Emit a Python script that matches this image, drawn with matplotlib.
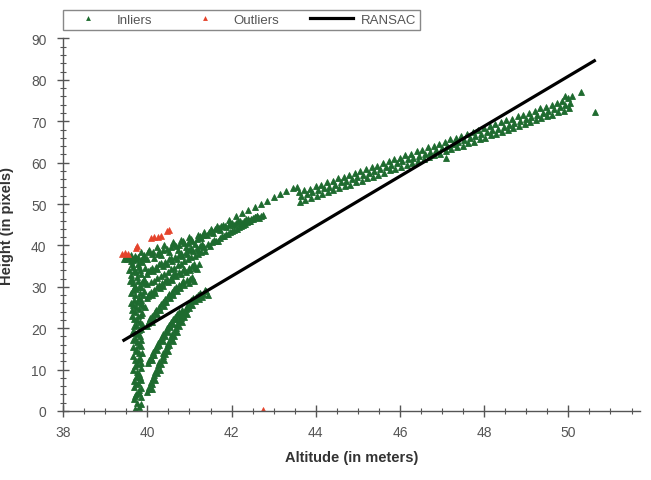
import matplotlib
matplotlib.use("Agg")
from matplotlib import pyplot as plt
from matplotlib.lines import Line2D
from matplotlib.ticker import MultipleLocator

plt.rcParams['font.family'] = ['Liberation Sans', 'DejaVu Sans']

GREEN = '#1e6b2f'
RED = '#e5432b'
GREY = '#555555'

# vertical column of inliers near 39.7 m
column = [
    (39.70, 0.4), (39.80, 0.9), (39.76, 1.9), (39.68, 2.8), (39.84, 3.3), (39.74, 4.2),
    (39.81, 5.1), (39.69, 5.9), (39.78, 6.8), (39.86, 7.4), (39.72, 8.1), (39.80, 9.0),
    (39.67, 9.8), (39.84, 10.5), (39.75, 11.3), (39.70, 12.4), (39.82, 12.9), (39.87, 14.0),
    (39.73, 14.6), (39.66, 15.5), (39.79, 16.0), (39.85, 17.1), (39.71, 17.6), (39.77, 18.7),
    (39.65, 19.4), (39.86, 19.9), (39.74, 20.8), (39.82, 21.6), (39.68, 22.3), (39.78, 23.0),
    (39.88, 23.6), (39.63, 24.4), (39.73, 25.1), (39.84, 25.8), (39.68, 26.7), (39.79, 27.3),
    (39.90, 27.9), (39.62, 28.6), (39.74, 29.4), (39.85, 30.0), (39.67, 30.9), (39.78, 31.5),
    (39.91, 32.0), (39.62, 32.8), (39.72, 33.5), (39.83, 34.1), (39.66, 34.9), (39.77, 35.5),
    (39.88, 35.9), (39.70, 36.6), (39.60, 36.2), (39.95, 30.8), (39.94, 25.0), (39.58, 31.5),
    (39.60, 26.0), (39.56, 34.0),
    (39.74, 0.0), (39.84, 1.6), (39.70, 3.6), (39.79, 4.4), (39.86, 5.6), (39.73, 6.4),
    (39.68, 7.3), (39.83, 8.3), (39.76, 9.5), (39.70, 10.9), (39.86, 11.7), (39.78, 12.2),
    (39.67, 13.4), (39.80, 13.9), (39.72, 15.0), (39.86, 15.6), (39.76, 16.7), (39.66, 17.2),
    (39.82, 18.0), (39.70, 18.9), (39.80, 19.6), (39.68, 20.6), (39.88, 21.0), (39.75, 21.9),
    (39.64, 22.9), (39.84, 23.3), (39.70, 23.8), (39.80, 24.6), (39.90, 25.3), (39.66, 25.6),
    (39.76, 26.3), (39.86, 26.9), (39.70, 27.9), (39.82, 28.4), (39.66, 29.3), (39.92, 29.0),
    (39.80, 29.9), (39.71, 30.3), (39.88, 31.2), (39.64, 31.9), (39.76, 32.4), (39.86, 33.0),
    (39.68, 33.9), (39.94, 34.5), (39.79, 34.7), (39.63, 35.5), (39.84, 36.4), (39.73, 37.0),
    (39.92, 37.0),
]

# diagonal branches fanning out of the column
branch1 = [
    (40.00, 4.6), (40.05, 5.8), (40.10, 5.4), (40.08, 7.0), (40.14, 7.9), (40.19, 7.6),
    (40.18, 9.4), (40.24, 10.2), (40.29, 10.0), (40.28, 11.8), (40.34, 12.6), (40.39, 12.4),
    (40.38, 14.1), (40.44, 15.0), (40.49, 14.6), (40.48, 16.4), (40.55, 17.2), (40.60, 16.9),
    (40.59, 18.7), (40.66, 19.5), (40.71, 19.1), (40.70, 21.0), (40.77, 21.8), (40.82, 21.4),
    (40.82, 23.3), (40.89, 24.0), (40.94, 23.5), (40.95, 25.4), (41.02, 26.0), (41.07, 25.5),
    (41.09, 27.3), (41.16, 27.6), (41.22, 27.1), (41.26, 28.6), (41.33, 28.2), (41.40, 28.9),
    (41.45, 28.0),
    (40.03, 5.2), (40.12, 6.6), (40.16, 8.6), (40.22, 9.1), (40.26, 11.0), (40.32, 11.4),
    (40.36, 13.3), (40.42, 13.8), (40.46, 15.6), (40.52, 16.0), (40.57, 17.9), (40.63, 18.2),
    (40.68, 20.1), (40.74, 20.5), (40.80, 22.5), (40.86, 22.8), (40.92, 24.7), (40.98, 24.8),
    (41.04, 26.8), (41.12, 26.6), (41.20, 28.1), (41.30, 27.6), (41.37, 29.2),
]
branch2 = [
    (40.02, 11.6), (40.08, 12.8), (40.12, 12.3), (40.13, 14.2), (40.19, 15.0), (40.24, 14.7),
    (40.25, 16.4), (40.31, 17.2), (40.36, 16.9), (40.38, 18.6), (40.44, 19.4), (40.49, 19.0),
    (40.51, 20.8), (40.57, 21.5), (40.62, 21.1), (40.65, 22.8), (40.71, 23.4), (40.77, 23.0),
    (40.82, 24.4), (40.88, 24.0),
    (40.05, 12.2), (40.10, 13.5), (40.16, 13.6), (40.22, 15.8), (40.28, 15.9), (40.34, 17.9),
    (40.41, 18.0), (40.47, 20.1), (40.54, 20.2), (40.60, 22.2), (40.68, 22.1), (40.74, 24.0),
    (40.80, 23.6),
]
branch3 = [
    (39.98, 20.6), (40.04, 21.8), (40.10, 21.4), (40.12, 23.0), (40.18, 23.8), (40.24, 23.4),
    (40.27, 25.0), (40.33, 25.8), (40.39, 25.4), (40.42, 27.0), (40.48, 27.7), (40.54, 27.3),
    (40.58, 28.8), (40.64, 29.5), (40.70, 29.1), (40.75, 30.4), (40.82, 31.0), (40.88, 30.5),
    (40.94, 31.6), (41.02, 31.9), (41.10, 31.4),
    (40.01, 21.2), (40.07, 22.5), (40.15, 22.4), (40.21, 24.5), (40.30, 24.4), (40.36, 26.4),
    (40.45, 26.3), (40.51, 28.3), (40.60, 28.1), (40.67, 30.0), (40.78, 29.8), (40.85, 31.5),
    (40.98, 30.8), (41.06, 32.3),
]
branch4 = [
    (39.98, 27.2), (40.05, 28.2), (40.12, 27.9), (40.16, 29.2), (40.23, 29.9), (40.30, 29.6),
    (40.35, 30.8), (40.42, 31.4), (40.49, 31.1), (40.55, 32.2), (40.62, 32.8), (40.69, 32.5),
    (40.76, 33.5), (40.84, 34.0), (40.91, 33.6), (40.98, 34.6), (41.06, 35.0), (41.14, 34.6),
    (41.22, 35.4),
    (40.02, 27.8), (40.09, 28.8), (40.19, 28.6), (40.27, 30.4), (40.38, 30.2), (40.46, 31.9),
    (40.58, 31.7), (40.66, 33.3), (40.80, 33.0), (40.88, 34.4), (41.02, 34.0), (41.10, 35.5),
    (41.18, 34.2),
]
branch45 = [
    (40.00, 30.6), (40.08, 31.2), (40.16, 31.5), (40.24, 32.2), (40.32, 32.5), (40.40, 33.2),
    (40.48, 33.6), (40.56, 34.2), (40.64, 34.6), (40.72, 35.2), (40.80, 35.6), (40.88, 36.2),
    (40.96, 36.6), (41.04, 37.1), (41.12, 37.5), (41.20, 38.0), (41.28, 38.4), (41.36, 38.7),
]
branch5 = [
    (39.98, 33.2), (40.06, 34.1), (40.14, 33.8), (40.20, 34.9), (40.28, 35.4), (40.36, 35.1),
    (40.43, 36.1), (40.51, 36.6), (40.59, 36.3), (40.66, 37.3), (40.75, 37.8), (40.83, 37.5),
    (40.91, 38.4), (41.00, 38.9), (41.08, 38.6), (41.17, 39.4), (41.26, 39.9), (41.35, 39.6),
    (41.44, 40.3), (41.53, 40.8), (41.62, 41.1), (41.72, 41.8), (41.82, 42.2), (41.92, 42.8),
    (42.02, 43.4), (42.12, 43.9), (42.22, 44.6), (42.32, 45.2), (42.42, 45.9), (42.52, 46.6),
    (42.60, 47.2),
    (40.02, 33.8), (40.10, 34.5), (40.24, 34.3), (40.32, 35.8), (40.47, 35.6), (40.55, 37.0),
    (40.70, 36.8), (40.79, 38.1), (40.95, 38.0), (41.04, 39.4), (41.21, 38.9), (41.30, 40.4),
    (41.48, 39.8), (41.58, 41.4), (41.67, 41.0), (41.77, 42.3), (41.87, 42.7), (41.97, 43.3),
    (42.07, 43.7), (42.17, 44.4), (42.27, 45.0), (42.37, 45.6), (42.47, 46.3), (42.56, 46.9),
]
top_band = [
    (39.45, 36.8), (39.50, 37.4), (39.58, 36.9), (39.62, 37.8), (39.70, 37.4), (39.85, 38.5),
    (39.93, 37.8), (39.98, 36.6), (40.05, 39.0), (40.10, 37.9), (40.16, 37.0), (40.22, 39.6),
    (40.28, 38.6), (40.33, 37.6), (40.40, 40.2), (40.47, 39.2), (40.52, 38.3), (40.60, 40.8),
    (40.67, 39.9), (40.72, 38.9), (40.80, 41.4), (40.87, 40.5), (40.92, 39.6), (41.00, 42.0),
    (41.07, 41.1), (41.13, 40.3), (41.20, 42.6), (41.28, 41.8), (41.35, 43.3), (41.42, 42.4),
    (41.50, 44.0), (41.57, 43.1), (41.65, 44.6), (41.72, 43.8), (41.80, 45.0), (41.88, 44.4),
    (41.97, 45.4), (42.06, 44.9), (42.15, 45.9), (42.25, 45.5), (42.35, 46.4), (42.45, 46.0),
    (42.55, 46.9), (42.65, 46.6), (42.75, 47.4),
    (39.52, 36.6), (39.66, 36.5), (39.78, 37.2), (39.90, 36.9), (40.02, 38.3), (40.13, 38.5),
    (40.25, 38.0), (40.36, 39.0), (40.56, 39.6), (40.64, 40.4), (40.76, 40.1), (40.84, 41.0),
    (40.96, 40.7), (41.04, 41.6), (41.17, 41.5), (41.24, 42.2), (41.32, 42.6), (41.46, 43.2),
    (41.54, 43.6), (41.61, 44.0), (41.69, 44.3), (41.76, 44.6), (41.84, 44.7), (41.93, 45.0),
    (42.02, 45.4), (42.10, 45.5), (42.20, 46.0), (42.30, 45.9), (42.40, 46.3), (42.50, 46.5),
    (42.60, 47.0), (42.70, 47.2),
]
thin_stripe = [
    (41.95, 46.2), (42.10, 47.0), (42.25, 47.8), (42.40, 48.6), (42.55, 49.3), (42.70, 50.1),
    (42.85, 50.8), (43.00, 51.6), (43.15, 52.4), (43.30, 53.1), (43.45, 53.8), (43.55, 54.2),
]

# main band from 43.6 m to 50 m: upper, middle and lower rows
band_upper = [
    (43.60, 52.8), (43.72, 53.3), (43.86, 53.7), (44.00, 54.3), (44.13, 54.7), (44.26, 55.2),
    (44.40, 55.6), (44.53, 56.2), (44.66, 56.5), (44.80, 57.1), (44.93, 57.5), (45.06, 58.0),
    (45.20, 58.4), (45.33, 59.0), (45.46, 59.3), (45.60, 59.9), (45.73, 60.3), (45.86, 60.9),
    (46.00, 61.2), (46.13, 61.8), (46.26, 62.2), (46.40, 62.8), (46.53, 63.1), (46.66, 63.7),
    (46.80, 64.1), (46.93, 64.6), (47.06, 65.0), (47.20, 65.6), (47.33, 65.9), (47.46, 66.5),
    (47.60, 66.9), (47.73, 67.4), (47.86, 67.8), (48.00, 68.4), (48.13, 68.8), (48.26, 69.3),
    (48.40, 69.7), (48.53, 70.3), (48.66, 70.6), (48.80, 71.2), (48.93, 71.6), (49.06, 72.1),
    (49.20, 72.5), (49.33, 73.1), (49.46, 73.4), (49.60, 74.0), (49.73, 74.4), (49.86, 74.9),
    (50.00, 75.6), (50.08, 76.1), (49.93, 76.0),
]
band_middle = [
    (43.66, 51.9), (43.79, 52.4), (43.92, 52.8), (44.06, 53.3), (44.19, 53.8), (44.32, 54.2),
    (44.46, 54.7), (44.59, 55.2), (44.72, 55.6), (44.86, 56.1), (44.99, 56.6), (45.12, 57.0),
    (45.26, 57.5), (45.39, 58.0), (45.52, 58.4), (45.66, 58.9), (45.79, 59.4), (45.92, 59.8),
    (46.06, 60.3), (46.19, 60.8), (46.32, 61.2), (46.46, 61.7), (46.59, 62.2), (46.72, 62.6),
    (46.86, 63.1), (46.99, 63.6), (47.12, 64.0), (47.26, 64.5), (47.39, 65.0), (47.52, 65.4),
    (47.66, 65.9), (47.79, 66.4), (47.92, 66.8), (48.06, 67.3), (48.19, 67.8), (48.32, 68.2),
    (48.46, 68.7), (48.59, 69.2), (48.72, 69.6), (48.86, 70.1), (48.99, 70.6), (49.12, 71.0),
    (49.26, 71.5), (49.39, 72.0), (49.52, 72.4), (49.66, 72.9), (49.79, 73.4), (49.92, 73.8),
    (50.05, 74.4),
]
band_lower = [
    (43.62, 50.6), (43.75, 51.0), (43.88, 51.5), (44.02, 51.9), (44.15, 52.5), (44.29, 52.8),
    (44.42, 53.4), (44.55, 53.8), (44.69, 54.3), (44.82, 54.7), (44.96, 55.3), (45.09, 55.6),
    (45.22, 56.2), (45.35, 56.6), (45.49, 57.1), (45.62, 57.5), (45.76, 58.1), (45.89, 58.5),
    (46.02, 59.0), (46.16, 59.4), (46.29, 60.0), (46.42, 60.3), (46.56, 60.9), (46.69, 61.3),
    (46.82, 61.9), (46.96, 62.2), (47.09, 62.8), (47.22, 63.2), (47.36, 63.7), (47.49, 64.1),
    (47.62, 64.7), (47.76, 65.0), (47.89, 65.6), (48.02, 66.0), (48.16, 66.6), (48.29, 66.9),
    (48.42, 67.5), (48.56, 67.9), (48.69, 68.4), (48.82, 68.8), (48.96, 69.4), (49.09, 69.7),
    (49.22, 70.3), (49.36, 70.7), (49.49, 71.2), (49.62, 71.6), (49.76, 72.2), (49.89, 72.5),
    (50.02, 73.1),
]
strays = [(47.10, 61.0), (50.29, 77.0), (50.64, 72.2)]

outliers = [
    (39.40, 37.9), (39.48, 38.1), (39.55, 37.9), (39.72, 39.4), (39.76, 39.8), (40.08, 41.9),
    (40.16, 42.1), (40.25, 42.0), (40.33, 42.3), (40.47, 43.4), (40.52, 43.8), (42.75, 0.2),
]

ransac_x = [39.41, 50.65]
ransac_y = [16.9, 84.8]

inliers = (column + branch1 + branch2 + branch3 + branch4 + branch45 + branch5 + top_band
           + thin_stripe + band_upper + band_middle + band_lower + strays)
inlier_x = [p[0] for p in inliers]
inlier_y = [p[1] for p in inliers]
outlier_x = [p[0] for p in outliers]
outlier_y = [p[1] for p in outliers]

fig = plt.figure(figsize=(6.51, 4.81), dpi=100)
ax = fig.add_axes([0.097, 0.1435, 0.886, 0.7745])

ax.plot(inlier_x, inlier_y, '^', color=GREEN, ms=4.8, mew=0.6, mec=GREEN, linestyle='none')
ax.plot(outlier_x, outlier_y, '^', color=RED, ms=4.4, mew=0.5, mec=RED, linestyle='none')
ax.plot(ransac_x, ransac_y, color='black', lw=2.3, solid_capstyle='butt')

ax.set_xlim(38, 51.7)
ax.set_ylim(0, 90)
ax.xaxis.set_major_locator(MultipleLocator(2))
ax.xaxis.set_minor_locator(MultipleLocator(0.5))
ax.yaxis.set_major_locator(MultipleLocator(10))
ax.yaxis.set_minor_locator(MultipleLocator(2))

for side in ('top', 'right'):
    ax.spines[side].set_visible(False)
for side in ('left', 'bottom'):
    ax.spines[side].set_color(GREY)
    ax.spines[side].set_linewidth(1)

ax.tick_params(which='major', direction='inout', length=8, width=1, color=GREY,
               labelsize=10, labelcolor=GREY)
ax.tick_params(which='minor', direction='inout', length=5, width=0.8, color=GREY)
ax.tick_params(axis='x', which='major', pad=6)
ax.tick_params(axis='y', which='major', pad=8)

ax.set_xlabel('Altitude (in meters)', fontsize=10.5, fontweight='bold', color='#333333', labelpad=8)
ax.set_ylabel('Height (in pixels)', fontsize=10.5, fontweight='bold', color='#333333', labelpad=12)

handles = [
    Line2D([], [], marker='^', color=GREEN, ms=3.5, mew=0, linestyle='none'),
    Line2D([], [], marker='^', color=RED, ms=3.5, mew=0, linestyle='none'),
    Line2D([], [], color='black', lw=2.3),
]
leg = fig.legend(handles, ['Inliers', 'Outliers', 'RANSAC'], ncol=3, mode='expand',
                 loc='lower left', bbox_to_anchor=(0.097, 0.9356, 0.548, 0.04),
                 borderaxespad=0, fontsize=9.5, handlelength=3.2, handletextpad=0.6,
                 borderpad=0.3, fancybox=False, framealpha=1)
leg.get_frame().set_edgecolor('#888888')
leg.get_frame().set_linewidth(1)
for t in leg.get_texts():
    t.set_color(GREY)

fig.savefig('out.png', dpi=100)
